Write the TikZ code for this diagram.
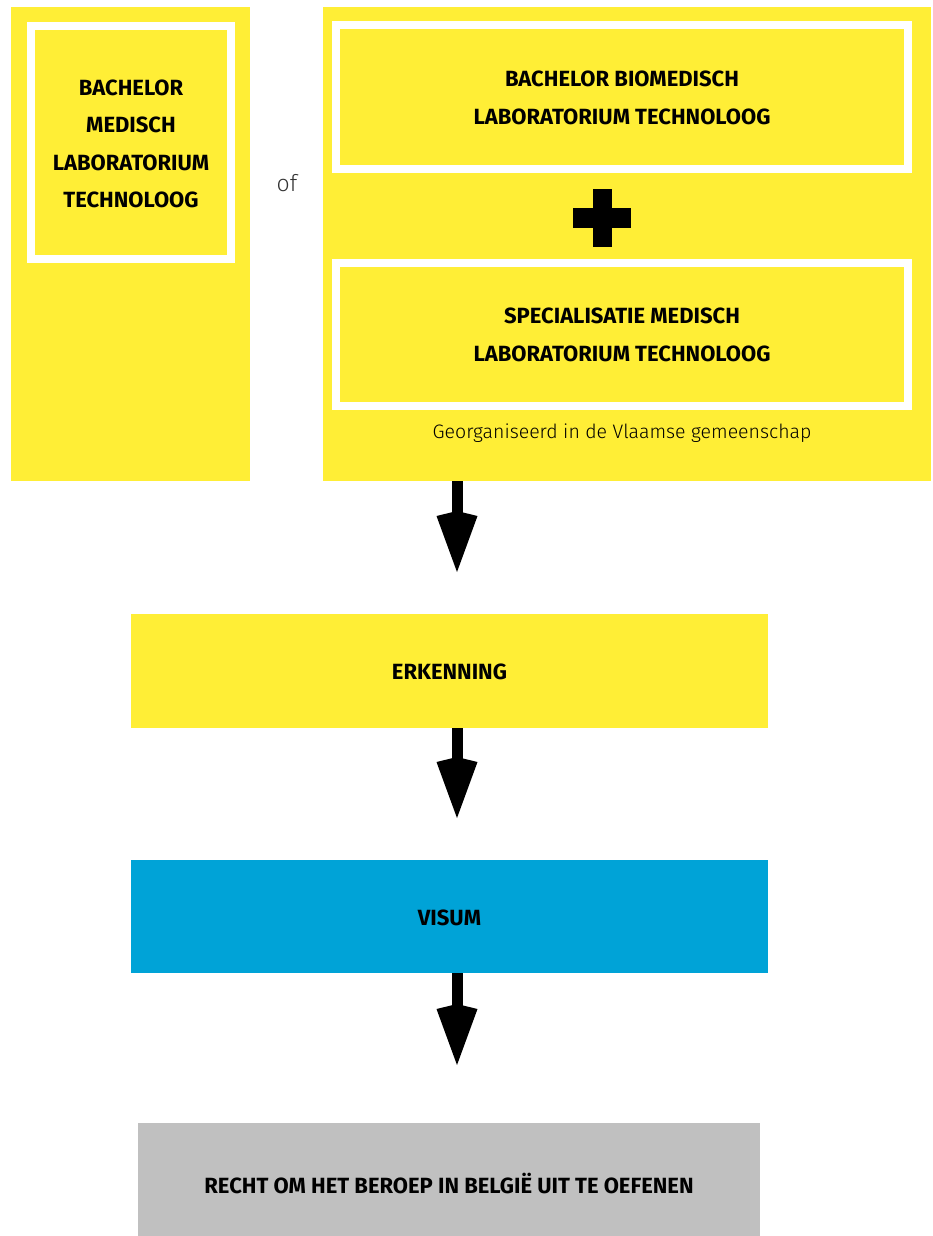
\documentclass[tikz,border=0pt]{standalone}
\usepackage{fontspec}
\setmainfont{Fira Sans}
\newfontfamily\lightfont{Fira Sans}[UprightFont=* Light]
\usetikzlibrary{arrows.meta}
\definecolor{ylw}{HTML}{FFEE36}
\definecolor{blu}{HTML}{00A3D7}
\definecolor{gry}{HTML}{C0C0C0}
\tikzset{
  outerbox/.style={fill=ylw, draw=none, minimum width=#1, inner sep=0pt, outer sep=0pt},
  framebox/.style={fill=ylw, draw=white, line width=8pt, inner sep=0pt, outer sep=0pt},
  lbl/.style={font=\fontsize{22}{37.5}\selectfont\bfseries, align=center, text=black},
  thin/.style={font=\lightfont\fontsize{19.5}{22}\selectfont, text=black},
  flowbox/.style={draw=none, minimum width=637pt, minimum height=114pt, inner sep=0pt, outer sep=0pt},
  arr/.style={line width=11pt, -{Kite[length=61pt, width=41pt, inset=5pt, line width=0pt]}},
}
\begin{document}
\begin{tikzpicture}[x=1pt, y=-1pt]
\useasboundingbox (0,0) rectangle (933,1236);
% left column
\node[outerbox=239pt, minimum height=474pt] (lbox) at (130.5,244) {};
\node[framebox, minimum width=200pt, minimum height=233pt] (lin) at (131,142.5) {};
\node[lbl] (ltxt) at (131,144) {BACHELOR\\MEDISCH\\LABORATORIUM\\TECHNOLOOG};
\node[font=\lightfont\fontsize{23}{24}\selectfont, text=black!80] (of) at (287,183) {of};
% right column
\node[outerbox=608pt, minimum height=474pt] (rbox) at (627,244) {};
\node[framebox, minimum width=572pt, minimum height=143.5pt] (r1) at (622,96.75) {};
\node[lbl] (r1t) at (622,98) {BACHELOR BIOMEDISCH\\LABORATORIUM TECHNOLOOG};
\node[framebox, minimum width=572pt, minimum height=143pt] (r2) at (622,334.5) {};
\node[lbl] (r2t) at (622,335) {SPECIALISATIE MEDISCH\\LABORATORIUM TECHNOLOOG};
\node[fill=black, minimum width=58pt, minimum height=20pt, inner sep=0pt] (plush) at (602,218) {};
\node[fill=black, minimum width=19pt, minimum height=58pt, inner sep=0pt] (plusv) at (602,218) {};
\node[thin] (geo) at (622,433) {Georganiseerd in de Vlaamse gemeenschap};
% flow
\node[flowbox, fill=ylw] (erk) at (449.5,671) {};
\node[lbl] (erkt) at (449.5,672) {ERKENNING};
\node[flowbox, fill=blu, minimum height=113pt] (vis) at (449.5,916.5) {};
\node[lbl] (vist) at (449.5,918) {VISUM};
\node[flowbox, fill=gry, minimum width=622pt, minimum height=113pt] (rec) at (449,1179.5) {};
\node[lbl] (rect) at (449,1183) {RECHT OM HET BEROEP IN BELGIË UIT TE OEFENEN};
\coordinate (ax) at (457,0);
\draw[arr, shorten >=42pt] (rbox.south -| ax) -- (erk.north -| ax);
\draw[arr, shorten >=42pt] (erk.south -| ax) -- (vis.north -| ax);
\draw[arr, shorten >=58pt] (vis.south -| ax) -- (rec.north -| ax);
\end{tikzpicture}
\end{document}
